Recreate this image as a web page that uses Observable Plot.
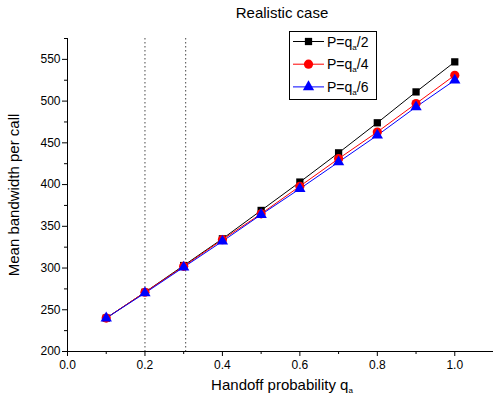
<!DOCTYPE html>
<html><head><meta charset="utf-8">
<script src="https://cdn.jsdelivr.net/npm/d3@7"></script>
<script src="https://cdn.jsdelivr.net/npm/@observablehq/plot@0.6"></script>
<style>body{margin:0;background:#fff}svg{font-family:"Liberation Sans",Arial,sans-serif}</style>
</head><body><div id="chart"></div>
<script>
const qa = [0.1,0.2,0.3,0.4,0.5,0.6,0.7,0.8,0.9,1.0];
const halfVals = [240,271,303,335,369,403,438,474,511,547];
const quarterVals = [240,271,302,334,365,398,431,463,497,531];
const sixthVals = [240,270,301,332,364,395,427,459,493,525];
const seriesNames = ["P=q/2","P=q/4","P=q/6"];
const seriesDenoms = ["2","4","6"];
const refLines = [0.2, 0.305];
const xTicks = [0,0.2,0.4,0.6,0.8,1.0];
const xMinor = [0.1,0.3,0.5,0.7,0.9,1.1];
const yTicks = [200,250,300,350,400,450,500,550];
const yMinor = [225,275,325,375,425,475,525,575];

const colors = ["#000000","#ff0000","#0000ff"];
const symbols = ["square","circle","triangle"];
const rs = [4.1,4.6,4.2];
const all = [halfVals, quarterVals, sixthVals];
const data = [];
all.forEach((vals,i)=>vals.forEach((v,j)=>data.push({x:qa[j], y:v, s:seriesNames[i]})));

const W=493,H=404,mL=67,mR=0,mT=38,mB=53;
const plot = Plot.plot({
  width:W, height:H, marginLeft:mL, marginRight:mR, marginTop:mT, marginBottom:mB,
  style:{fontFamily:"Liberation Sans, Arial, sans-serif", fontSize:"12px", color:"#000", background:"#fff", overflow:"visible"},
  x:{domain:[0,1.1], label:null},
  y:{domain:[200,575], label:null},
  marks:[
    Plot.ruleX(refLines,{stroke:"#666", strokeWidth:1.2, strokeDasharray:"1.5,2.5"}),
    Plot.axisX({ticks:xTicks, tickFormat:d3.format(".1f"), tickSize:5, tickPadding:4, fontSize:12, stroke:"#000"}),
    Plot.axisX({ticks:xMinor, tickFormat:()=>"" , tickSize:3, stroke:"#000"}),
    Plot.axisY({ticks:yTicks, tickSize:5, tickPadding:2, fontSize:12, stroke:"#000"}),
    Plot.axisY({ticks:yMinor, tickFormat:()=>"", tickSize:3, stroke:"#000"}),
    Plot.ruleY([200],{stroke:"#000"}),
    Plot.ruleX([0],{stroke:"#000"}),
    ...seriesNames.map((s,i)=>Plot.line(data.filter(d=>d.s===s),{x:"x",y:"y",stroke:colors[i],strokeWidth:1})),
    ...seriesNames.map((s,i)=>Plot.dot(data.filter(d=>d.s===s),{x:"x",y:"y",fill:colors[i],stroke:"none",symbol:()=>symbols[i],r:rs[i]}))
  ]
});
document.getElementById("chart").appendChild(plot);

const svg = d3.select(plot);
// title
svg.append("text").attr("x",282).attr("y",18).attr("text-anchor","middle").attr("font-size",15).attr("fill","#000").text("Realistic case");
// x label
const xl = svg.append("text").attr("x",282).attr("y",390).attr("text-anchor","middle").attr("font-size",15).attr("fill","#000");
xl.append("tspan").text("Handoff probability q");
xl.append("tspan").attr("font-size",8).attr("dy",3).text("a");
// y label
svg.append("text").attr("transform","translate(19,195) rotate(-90)").attr("text-anchor","middle").attr("font-size",15).attr("fill","#000").text("Mean bandwidth per call");
// legend
const lg = svg.append("g");
lg.append("rect").attr("x",289.5).attr("y",31.5).attr("width",87).attr("height",68).attr("fill","#fff").attr("stroke","#000").attr("stroke-width",1);
seriesNames.forEach((s,i)=>{
  const y = 41.5 + i*22.7;
  lg.append("line").attr("x1",293).attr("x2",324).attr("y1",y).attr("y2",y).attr("stroke",colors[i]).attr("stroke-width",1);
  const t = {square:d3.symbolSquare,circle:d3.symbolCircle,triangle:d3.symbolTriangle}[symbols[i]];
  lg.append("path").attr("transform",`translate(308.5,${y})`).attr("d",d3.symbol(t, Math.PI*rs[i]*rs[i])()).attr("fill",colors[i]);
  const tx = lg.append("text").attr("x",327).attr("y",y+5).attr("text-anchor","start").attr("font-size",14).attr("fill","#000");
  tx.append("tspan").text("P=q");
  tx.append("tspan").attr("font-size",8).attr("dy",3).text("a");
  tx.append("tspan").attr("dy",-3).text("/"+seriesDenoms[i]);
});
</script></body></html>
